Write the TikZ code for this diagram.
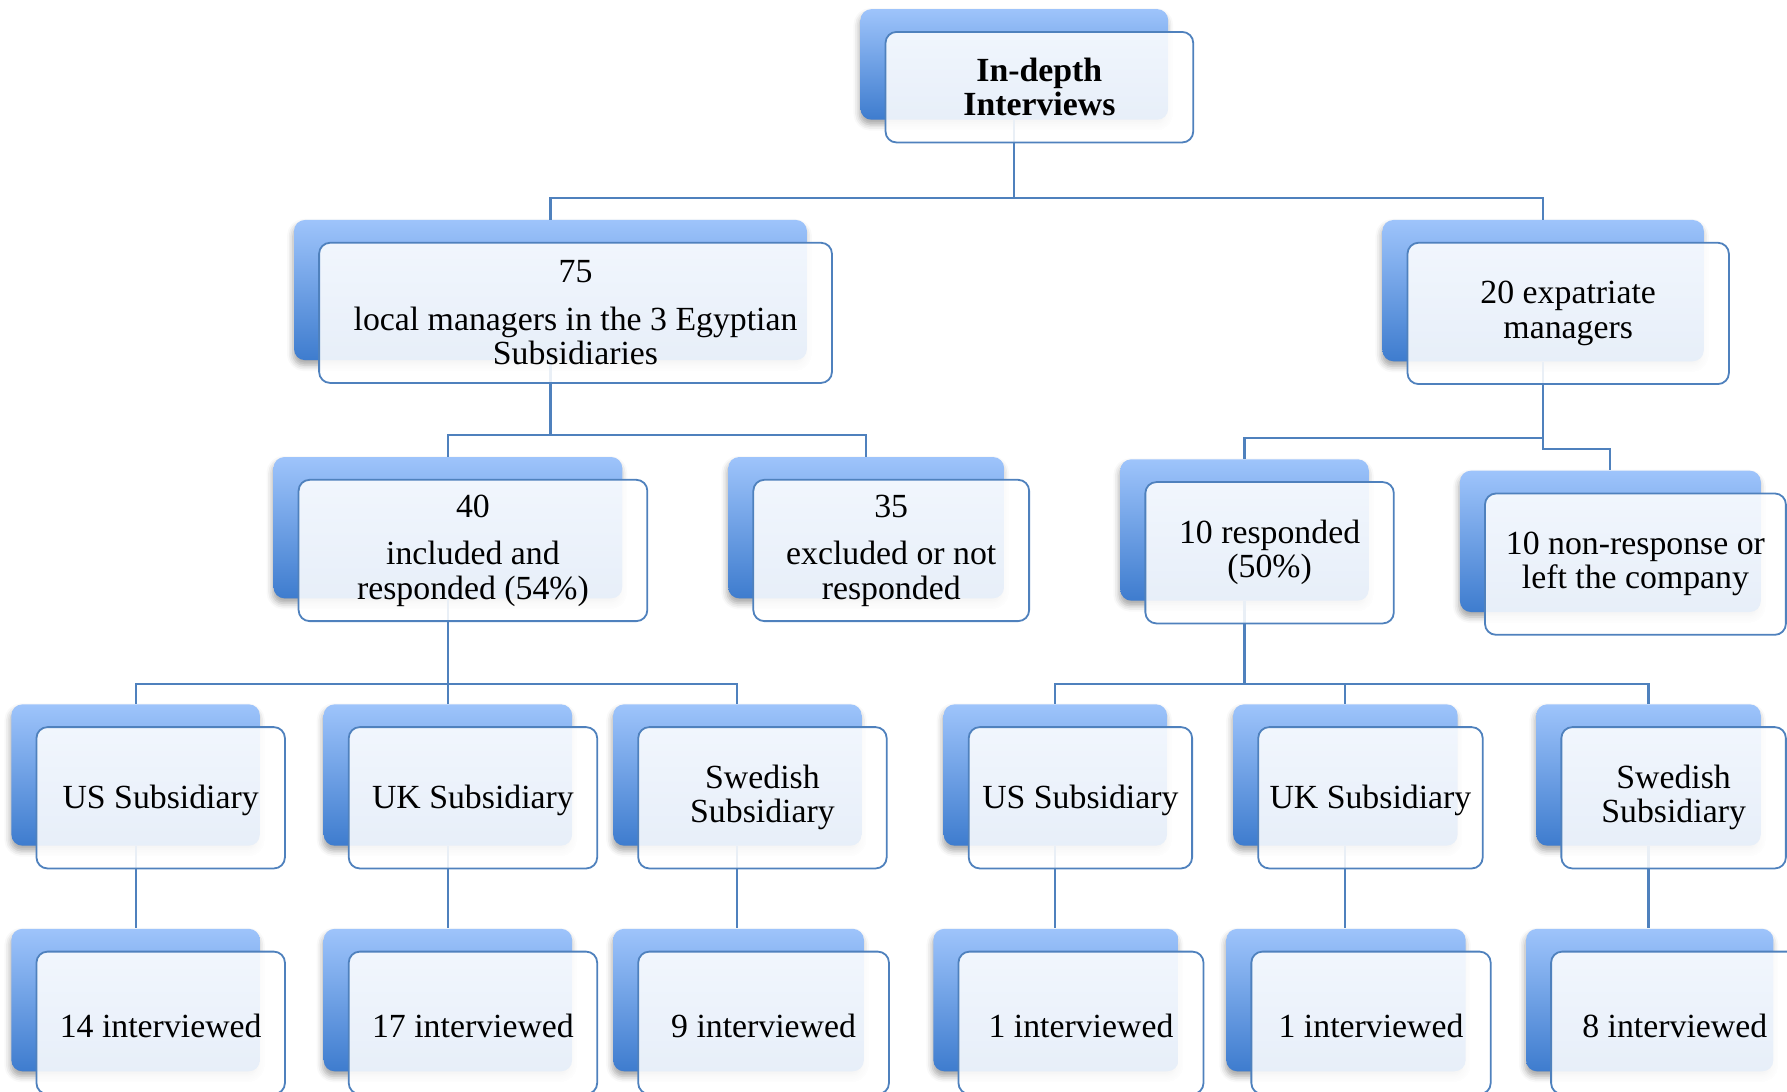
\documentclass[tikz,border=0pt]{standalone}
\usepackage{fontspec}
\setmainfont{Liberation Serif}
\usetikzlibrary{shadows.blur,calc}

\pgfdeclarelayer{backlayer}
\pgfdeclarelayer{linelayer}
\pgfsetlayers{backlayer,linelayer,main}

\definecolor{boxtop}{RGB}{158,196,251}
\definecolor{boxbot}{RGB}{62,124,206}
\definecolor{edgeblue}{RGB}{79,129,189}

\tikzset{
  backbox/.style={rounded corners=5.5pt, top color=boxtop, bottom color=boxbot,
    draw=none, inner sep=0pt,
    blur shadow={shadow xshift=-0.5pt, shadow yshift=-2.5pt,
      shadow blur radius=3pt, shadow opacity=35}},
  frontbox/.style={rounded corners=5.5pt, draw=edgeblue, line width=0.9pt,
    fill=white, fill opacity=0.88, text opacity=1, align=center, inner sep=0pt,
    font=\fontsize{16.9pt}{17.1pt}\selectfont,
    execute at begin node={\rule{0pt}{14.6pt}}},
  conn/.style={draw=edgeblue, line width=1.1pt},
}

% #1 name, #2-#5 corners of the shaded card (left, top, right, bottom), #6 label
\newcommand\tierbox[6]{%
  \begin{pgfonlayer}{backlayer}
    \node[backbox, minimum width={(#4-#2)*0.57pt}, minimum height={(#5-#3)*0.57pt}]
      (#1-b) at ({(#2+#4)/2},{(#3+#5)/2}) {};
  \end{pgfonlayer}
  \node[frontbox, minimum width={(#4-#2)*0.57pt}, minimum height={(#5-#3)*0.57pt}]
    (#1) at ({(#2+#4)/2+22},{(#3+#5)/2+20}) {#6};
}

\begin{document}
\begin{tikzpicture}[x=0.57pt, y=-0.57pt]
\useasboundingbox (0,0) rectangle (1568,958);

% level 1
\tierbox{top}{755}{8}{1025}{105}{\bfseries In-depth\\\bfseries Interviews}

% level 2
\tierbox{loc}{258}{193}{708}{316}{75\\[6.8pt]local managers in the 3 Egyptian\\Subsidiaries}
\tierbox{exp}{1213}{193}{1495}{317}{20 expatriate\\managers}

% level 3
\tierbox{inc}{240}{401}{546}{525}{40\\[6.8pt]included and\\responded (54\%)}
\tierbox{exc}{639}{401}{881}{525}{35\\[6.8pt]excluded or not\\responded}
\tierbox{resp}{983}{403}{1201}{527}{10 responded\\(50\%)}
\tierbox{nonr}{1281}{413}{1545}{537}{10 non-response or\\left the company}

% level 4
\tierbox{usa}{10}{618}{228}{742}{US Subsidiary}
\tierbox{uka}{284}{618}{502}{742}{UK Subsidiary}
\tierbox{swa}{538}{618}{756}{742}{Swedish\\Subsidiary}
\tierbox{usb}{828}{618}{1024}{742}{US Subsidiary}
\tierbox{ukb}{1082}{618}{1279}{742}{UK Subsidiary}
\tierbox{swb}{1348}{618}{1545}{742}{Swedish\\Subsidiary}

% level 5
\tierbox{nusa}{10}{815}{228}{940}{14 interviewed}
\tierbox{nuka}{284}{815}{502}{940}{17 interviewed}
\tierbox{nswa}{538}{815}{758}{940}{9 interviewed}
\tierbox{nusb}{819}{815}{1034}{940}{1 interviewed}
\tierbox{nukb}{1076}{815}{1286}{940}{1 interviewed}
\tierbox{nswb}{1339}{815}{1556}{940}{8 interviewed}

% connectors
\begin{pgfonlayer}{linelayer}
  \draw[conn] (top-b.south) -- (top-b.south |- 0,174);
  \draw[conn] (loc-b.north) |- (top-b.south |- 0,174) -| (exp-b.north);

  \draw[conn] (loc-b.south) -- (loc-b.south |- 0,382);
  \draw[conn] (inc-b.north) |- (loc-b.south |- 0,382) -| (exc-b.north);

  \draw[conn] (exp-b.south) -- (exp-b.south |- 0,394) -| (nonr-b.north);
  \draw[conn] (resp-b.north) |- (exp-b.south |- 0,384);

  \draw[conn] (inc-b.south) -- (inc-b.south |- 0,600);
  \draw[conn] (usa-b.north) |- (inc-b.south |- 0,600) -| (swa-b.north);
  \draw[conn] (uka-b.north) -- (uka-b.north |- 0,600);

  \draw[conn] (resp-b.south) -- (resp-b.south |- 0,600);
  \draw[conn] (usb-b.north) |- (resp-b.south |- 0,600) -| (swb-b.north);
  \draw[conn] (ukb-b.north) -- (ukb-b.north |- 0,600);

  \draw[conn] (usa-b.south) -- (usa-b.south |- nusa-b.north);
  \draw[conn] (uka-b.south) -- (uka-b.south |- nuka-b.north);
  \draw[conn] (swa-b.south) -- (swa-b.south |- nswa-b.north);
  \draw[conn] (usb-b.south) -- (usb-b.south |- nusb-b.north);
  \draw[conn] (ukb-b.south) -- (ukb-b.south |- nukb-b.north);
  \draw[conn] (swb-b.south) -- (swb-b.south |- nswb-b.north);
\end{pgfonlayer}
\end{tikzpicture}
\end{document}
